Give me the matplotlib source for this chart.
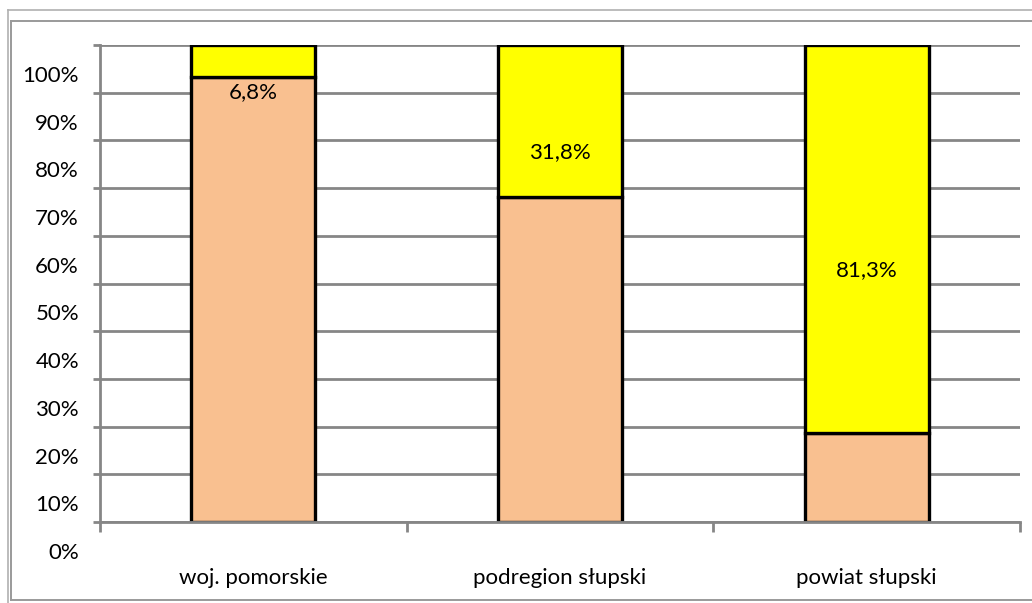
import matplotlib
matplotlib.use("Agg")
import matplotlib.pyplot as plt
from matplotlib.transforms import ScaledTranslation
from matplotlib.lines import Line2D

categories = ["woj. pomorskie", "podregion słupski", "powiat słupski"]
share_yellow = [6.8, 31.8, 81.3]
share_orange = [93.2, 68.2, 18.7]
yticks = [0, 10, 20, 30, 40, 50, 60, 70, 80, 90, 100]
ytick_labels = ["0%", "10%", "20%", "30%", "40%", "50%", "60%", "70%", "80%", "90%", "100%"]

plt.rcParams['font.family'] = ['Lato', 'DejaVu Sans']
W, H, DPI = 1032, 603, 100
FS = 16
fig = plt.figure(figsize=(W / DPI, H / DPI), dpi=DPI)
fig.patch.set_facecolor("white")

ax = fig.add_axes([100 / W, (H - 522) / H, 920 / W, 477 / H])
GRID = "#868686"
ORANGE = "#F9C090"
YELLOW = "#FFFF00"

x = list(range(len(categories)))
ax.bar(x, share_orange, width=0.405, color=ORANGE, edgecolor="black", linewidth=2.4, zorder=2)
ax.bar(x, share_yellow, width=0.405, bottom=share_orange, color=YELLOW, edgecolor="black", linewidth=2.4, zorder=2)

ax.set_xlim(-0.5, 2.5)
ax.set_ylim(0, 100)
ax.set_yticks(yticks)
ax.set_yticklabels([])
ax.yaxis.grid(True, color=GRID, linewidth=2.0, zorder=0)
ax.set_axisbelow(True)
ax.tick_params(axis="y", length=5, width=2.0, color=GRID)

ax.set_xticks(x)
ax.set_xticklabels(categories, fontsize=FS)
ax.tick_params(axis="x", which="major", length=0, pad=33)
ax.set_xticks([-0.5, 0.5, 1.5, 2.5], minor=True)
ax.tick_params(axis="x", which="minor", length=7.5, width=2.0, color=GRID)

for s in ["top", "right"]:
    ax.spines[s].set_visible(False)
for s in ["left", "bottom"]:
    ax.spines[s].set_color(GRID)
    ax.spines[s].set_linewidth(2.0)
    ax.spines[s].set_zorder(3)

shift = ScaledTranslation(0, -31 / DPI, fig.dpi_scale_trans)
ytr = ax.get_yaxis_transform() + ScaledTranslation(-21 / DPI, -31 / DPI, fig.dpi_scale_trans)
for v, lab in zip(yticks, ytick_labels):
    ax.text(0, v, lab, transform=ytr, ha="right", va="center", fontsize=FS, clip_on=False)

for xi, o, yv in zip(x, share_orange, share_yellow):
    ax.text(xi, o + yv / 2, f"{yv:.1f}%".replace(".", ","), transform=ax.transData + shift,
            ha="center", va="center", fontsize=FS, clip_on=False, zorder=5)

def fl(x0, y0, x1, y1, c, lw):
    fig.add_artist(Line2D([x0 / W, x1 / W], [1 - y0 / H, 1 - y1 / H], color=c, linewidth=lw,
                          transform=fig.transFigure))

fl(8, 10, W, 10, "#b0b0b0", 1.2)
fl(8, 10, 8, H, "#b0b0b0", 1.2)
fl(11, 21, W, 21, "#9a9a9a", 1.4)
fl(11, 21, 11, 600, "#9a9a9a", 1.4)
fl(11, 600, W, 600, "#9a9a9a", 1.4)

fig.savefig("out.png", dpi=DPI, facecolor="white")
